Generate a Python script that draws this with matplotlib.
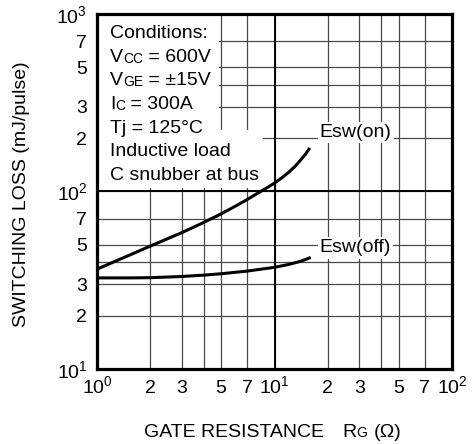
import matplotlib
matplotlib.use("Agg")
import matplotlib.pyplot as plt
from matplotlib.patches import Polygon
from matplotlib.ticker import FixedLocator, NullFormatter

plt.rcParams['font.family'] = ['Liberation Sans', 'DejaVu Sans']
plt.rcParams['mathtext.fontset'] = 'custom'
plt.rcParams['mathtext.rm'] = 'Liberation Sans'
plt.rcParams['mathtext.it'] = 'Liberation Sans:italic'

# ---- data ----
rg_on = [1, 2, 3, 4, 5, 6, 7, 8, 9, 10, 11, 12, 13, 14, 15, 15.8]
esw_on = [36.5, 49.3, 58.6, 67, 74.8, 82.5, 90, 97.5, 104.5, 111.5, 119.5, 128, 138, 150, 163, 176]

rg_off = [1, 1.5, 2, 3, 4, 5, 7, 10, 12, 14, 16]
esw_off = [32.6, 32.6, 32.7, 33.2, 33.8, 34.4, 35.6, 37.4, 38.8, 40.4, 42.5]

xtick_vals = [1, 2, 3, 5, 7, 10, 20, 30, 50, 70, 100]
xtick_labels = [r'$\mathregular{10^{0}}$', '2', '3', '5', '7', r'$\mathregular{10^{1}}$',
                '2', '3', '5', '7', r'$\mathregular{10^{2}}$']
ytick_vals = [10, 20, 30, 50, 70, 100, 200, 300, 500, 700, 1000]
ytick_labels = [r'$\mathregular{10^{1}}$', '2', '3', '5', '7', r'$\mathregular{10^{2}}$',
                '2', '3', '5', '7', r'$\mathregular{10^{3}}$']
x_extra_grid = [4, 40]
y_extra_grid = [40, 400]

conditions = [("Conditions:", "", ""),
              ("V", "CC", " = 600V"),
              ("V", "GE", " = \u00b115V"),
              ("I", "C", " = 300A"),
              ("Tj = 125\u00b0C", "", ""),
              ("Inductive load", "", ""),
              ("C snubber at bus", "", "")]

label_on = "Esw(on)"
label_off = "Esw(off)"
label_on_pos = (18.0, 214)
label_off_pos = (18.0, 48.1)

xlabel_parts = ["GATE RESISTANCE", "R", "G", "(\u03a9)"]
ylabel = "SWITCHING LOSS (mJ/pulse)"

# ---- figure ----
W, H = 472, 444
fig = plt.figure(figsize=(W / 100, H / 100), dpi=100)
L, R, T, B = 97, 452, 14, 369
ax = fig.add_axes([L / W, 1 - B / H, (R - L) / W, (B - T) / H])
ax.set_xscale('log')
ax.set_yscale('log')
ax.set_xlim(1, 100)
ax.set_ylim(10, 1000)

ax.xaxis.set_major_locator(FixedLocator(xtick_vals))
ax.xaxis.set_minor_locator(FixedLocator(x_extra_grid))
ax.yaxis.set_major_locator(FixedLocator(ytick_vals))
ax.yaxis.set_minor_locator(FixedLocator(y_extra_grid))
ax.set_xticklabels(xtick_labels)
ax.set_yticklabels(ytick_labels)
ax.xaxis.set_minor_formatter(NullFormatter())
ax.yaxis.set_minor_formatter(NullFormatter())
ax.tick_params(which='both', length=0, labelsize=14)
ax.tick_params(axis='x', pad=17)
ax.tick_params(axis='y', pad=7)
for lab in ax.get_xticklabels():
    lab.set_verticalalignment('baseline')

ax.set_axisbelow(True)
ax.grid(True, which='both', color='#4a4a4a', lw=0.9)
ax.axvline(10, color='black', lw=1.4, zorder=1)
ax.axhline(100, color='black', lw=1.4, zorder=1)
for s in ax.spines.values():
    s.set_linewidth(2.3)
    s.set_zorder(5)

# white area behind the conditions text
def px(x, y):
    return ((x - L) / (R - L), (B - y) / (B - T))

box = Polygon([px(97, 14), px(219, 14), px(219, 130), px(263, 130),
               px(263, 188), px(97, 188)], closed=True,
              transform=ax.transAxes, facecolor='white', edgecolor='none', zorder=1.5)
ax.add_patch(box)

ax.plot(rg_on, esw_on, color='black', lw=2.2, zorder=3, solid_capstyle='butt',
        solid_joinstyle='round')
ax.plot(rg_off, esw_off, color='black', lw=2.2, zorder=3, solid_capstyle='butt',
        solid_joinstyle='round')

bb = dict(facecolor='white', edgecolor='none', pad=1.5)
ax.text(*label_on_pos, label_on, fontsize=14, va='center', ha='left', bbox=bb, zorder=4)
ax.text(*label_off_pos, label_off, fontsize=14, va='center', ha='left', bbox=bb, zorder=4)

# conditions block
y0 = 38
dy = 23.67
for i, (main, small, rest) in enumerate(conditions):
    xf, yf = px(110, y0 + i * dy)
    t = ax.text(xf, yf, main, transform=ax.transAxes, fontsize=14,
                va='baseline', ha='left', zorder=4)
    if small:
        s = ax.annotate(small, xy=(1, 0), xycoords=t, fontsize=10,
                        va='bottom', ha='left', zorder=4)
        ax.annotate(rest, xy=(1, 0), xycoords=(s, t), fontsize=14,
                    va='bottom', ha='left', zorder=4)

# axis labels
yb = (H - 437) / H
fig.text(144 / W, yb, xlabel_parts[0], fontsize=14, va='baseline', ha='left')
fig.text(342 / W, yb, xlabel_parts[1], fontsize=14, va='baseline', ha='left')
fig.text(356 / W, yb, xlabel_parts[2], fontsize=10, va='baseline', ha='left')
fig.text(374 / W, yb, xlabel_parts[3], fontsize=14, va='baseline', ha='left')

fig.text(21.5 / W, 1 - 194 / H, ylabel, fontsize=14,
         rotation=90, ha='center', va='center')

fig.savefig("out.png", dpi=100)
